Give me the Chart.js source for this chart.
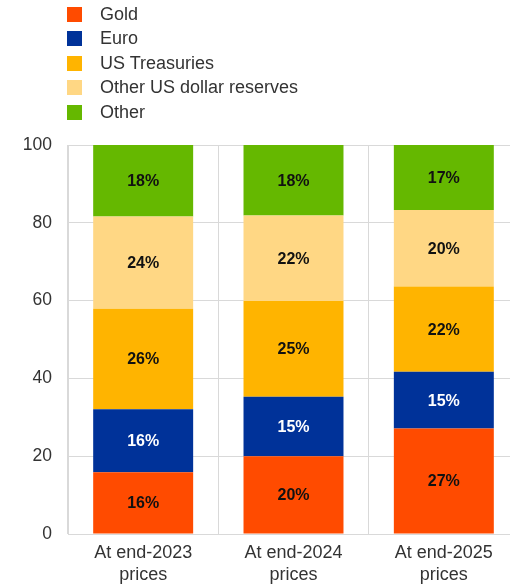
<!DOCTYPE html>
<html>
<head>
<meta charset="utf-8">
<script src="https://cdn.jsdelivr.net/npm/chart.js@4"></script>
<style>
  html, body { margin: 0; padding: 0; background: #fff; }
  #wrap { position: relative; width: 510px; height: 587px; overflow: hidden; }
  #chart { position: absolute; left: 0; top: 0; }
  #legend { position: absolute; left: 67px; top: 2px; font-family: "Liberation Sans", Arial, sans-serif; font-size: 18px; color: #333; }
  .item { display: flex; align-items: center; height: 24.5px; }
  .box { width: 15px; height: 15px; margin-right: 18px; }
</style>
</head>
<body>
<div id="wrap">
  <canvas id="chart" width="522" height="587"></canvas>
  <div id="legend"></div>
</div>
<script>
const categories = [["At end-2023", "prices"], ["At end-2024", "prices"], ["At end-2025", "prices"]];
const seriesNames = ["Gold", "Euro", "US Treasuries", "Other US dollar reserves", "Other"];
const gold = [15.9, 20.0, 27.1];
const euro = [16.2, 15.3, 14.6];
const usTreasuries = [25.8, 24.6, 21.9];
const otherUsd = [23.7, 22.0, 19.7];
const other = [18.4, 18.1, 16.7];
const yTicks = [0, 20, 40, 60, 80, 100];

const colors = ['#FF4B00', '#003299', '#FFB400', '#FFD784', '#65B800'];
const labelColors = ['#111', '#fff', '#111', '#111', '#111'];
const series = [gold, euro, usTreasuries, otherUsd, other];

const font = '"Liberation Sans", Arial, sans-serif';

// html legend, one row per series
const legend = document.getElementById('legend');
seriesNames.forEach((name, i) => {
  const row = document.createElement('div');
  row.className = 'item';
  row.innerHTML = '<span class="box" style="background:' + colors[i] + '"></span><span>' + name + '</span>';
  legend.appendChild(row);
});

// percentage labels in the middle of each segment
const valueLabels = {
  id: 'valueLabels',
  afterDatasetsDraw(chart) {
    const ctx = chart.ctx;
    ctx.save();
    ctx.font = 'bold 16px ' + font;
    ctx.textAlign = 'center';
    ctx.textBaseline = 'middle';
    chart.data.datasets.forEach((ds, i) => {
      chart.getDatasetMeta(i).data.forEach((bar, j) => {
        ctx.fillStyle = labelColors[i];
        ctx.fillText(Math.round(ds.data[j]) + '%', bar.x, (bar.y + bar.base) / 2 + 1);
      });
    });
    ctx.restore();
  }
};

new Chart(document.getElementById('chart'), {
  type: 'bar',
  data: {
    labels: categories,
    datasets: series.map((data, i) => ({
      label: seriesNames[i],
      data: data,
      backgroundColor: colors[i],
      borderWidth: 0,
      categoryPercentage: 1,
      barPercentage: 0.665
    }))
  },
  plugins: [valueLabels],
  options: {
    responsive: false,
    animation: false,
    layout: { padding: { top: 145, right: 3, left: 0, bottom: 0 } },
    plugins: {
      legend: { display: false },
      tooltip: { enabled: false }
    },
    scales: {
      x: {
        stacked: true,
        grid: { color: '#d9d9d9', drawTicks: false, offset: true },
        border: { color: '#d9d9d9' },
        ticks: { color: '#333', font: { family: font, size: 18, lineHeight: 1.22 }, padding: 8, maxRotation: 0 },
        afterFit(scale) { scale.height = 53; }
      },
      y: {
        stacked: true,
        min: 0,
        max: 100,
        afterBuildTicks(scale) { scale.ticks = yTicks.map(v => ({ value: v })); },
        grid: { color: '#d9d9d9', drawTicks: false },
        border: { color: '#d9d9d9' },
        ticks: { color: '#333', font: { family: font, size: 17.5 }, padding: 16 },
        afterFit(scale) { scale.width = 68; }
      }
    }
  }
});
</script>
</body>
</html>
